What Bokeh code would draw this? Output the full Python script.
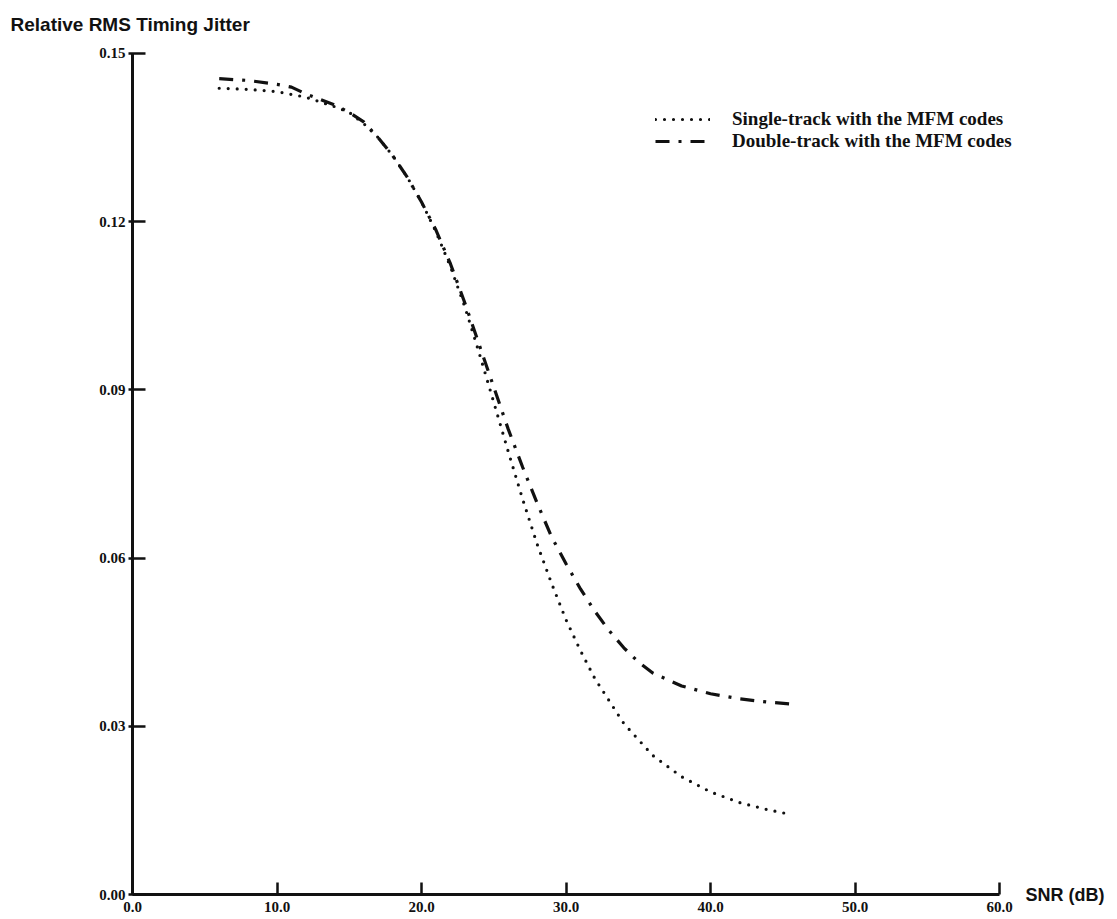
from bokeh.plotting import figure
from bokeh.models import (Range1d, FixedTicker, NumeralTickFormatter, Legend, LegendItem,
                          LinearAxis)
from bokeh.embed import file_html
from bokeh.resources import INLINE

# SNR (dB) sample points and relative RMS timing jitter for each recording scheme
snr_single = [6, 8, 10, 12, 14, 15, 16, 17, 18, 19, 20, 21, 22, 23, 24, 25, 26, 27, 28, 29,
              30, 31, 32, 34, 36, 38, 40, 42, 44, 45.5]
jitter_single = [0.1438, 0.1436, 0.1432, 0.1422, 0.1405, 0.1395, 0.1375, 0.135, 0.1318, 0.128,
                 0.1235, 0.1182, 0.112, 0.1048, 0.0965, 0.0878, 0.079, 0.0705, 0.0625, 0.0555,
                 0.049, 0.0435, 0.0385, 0.0305, 0.0248, 0.021, 0.0183, 0.0164, 0.0151, 0.0143]

snr_double = [6, 8, 10, 11, 12, 14, 15, 16, 17, 18, 19, 20, 21, 22, 23, 24, 25, 26, 27, 28,
              29, 30, 31, 32, 33, 34, 35, 36, 38, 40, 42, 44, 45.5]
jitter_double = [0.1455, 0.1452, 0.1445, 0.144, 0.1428, 0.1408, 0.1395, 0.1378, 0.135, 0.1318,
                 0.128, 0.1235, 0.1185, 0.1125, 0.1055, 0.098, 0.0905, 0.083, 0.0762, 0.0698,
                 0.0638, 0.059, 0.0545, 0.0505, 0.047, 0.044, 0.0415, 0.0395, 0.0372, 0.0358,
                 0.0349, 0.0343, 0.034]

x_ticks = [0, 10, 20, 30, 40, 50, 60]
y_ticks = [0.0, 0.03, 0.06, 0.09, 0.12, 0.15]

series_labels = ["Single-track with the MFM codes", "Double-track with the MFM codes"]
y_title = "Relative RMS Timing Jitter"
x_title = "SNR (dB)"

# The frame runs a little past 60 dB and above 0.15 so the legend fits inside it;
# the drawn axes stop at 60 / 0.15.
p = figure(width=1117, height=919, output_backend="svg", toolbar_location=None,
           x_range=Range1d(0, 61.45), y_range=Range1d(0, 0.15303),
           min_border_left=132, min_border_right=97, min_border_top=36, min_border_bottom=25,
           background_fill_color="white", border_fill_color="white", outline_line_color=None)
p.grid.visible = False

ink = "#111111"

p.title.text = y_title
p.title.align = "left"
p.title.offset = -122
p.title.standoff = 3
p.title.text_font = "Liberation Sans"
p.title.text_font_style = "bold"
p.title.text_font_size = "19px"
p.title.text_color = ink

for ax in (p.xaxis[0], p.yaxis[0]):
    ax.axis_line_width = 3
    ax.axis_line_color = ink
    ax.major_tick_line_width = 2.5
    ax.major_tick_line_color = ink
    ax.minor_tick_line_color = None
    ax.major_label_text_font = "Liberation Serif"
    ax.major_label_text_font_style = "bold"
    ax.major_label_text_font_size = "15px"
    ax.major_label_text_color = ink

p.xaxis.bounds = (0, 60)
p.xaxis.ticker = FixedTicker(ticks=x_ticks)
p.xaxis.formatter = NumeralTickFormatter(format="0.0")
p.xaxis.major_tick_in = 12
p.xaxis.major_tick_out = 0
p.xaxis.major_label_standoff = 7

p.yaxis.bounds = (0, 0.15)
p.yaxis.ticker = FixedTicker(ticks=y_ticks)
p.yaxis.formatter = NumeralTickFormatter(format="0.00")
p.yaxis.major_tick_in = 13
p.yaxis.major_tick_out = 4
p.yaxis.major_label_standoff = 3

# x-axis name sits level with the x-axis line, to the right of the frame
name_axis = LinearAxis(ticker=FixedTicker(ticks=[0.0]), major_label_overrides={0: x_title},
                       axis_line_color=None, major_tick_line_color=None,
                       minor_tick_line_color=None, major_tick_out=0, major_tick_in=0,
                       major_label_standoff=5, major_label_text_font="Liberation Sans",
                       major_label_text_font_style="bold", major_label_text_font_size="18px",
                       major_label_text_color=ink)
p.add_layout(name_axis, "right")

r_single = p.line(snr_single, jitter_single, line_color=ink, line_width=3.2,
                  line_dash="0 9", line_cap="round")
r_double = p.line(snr_double, jitter_double, line_color=ink, line_width=3.2,
                  line_dash="14 9 3 9", line_cap="butt")

legend_style = dict(orientation="vertical", glyph_width=55, glyph_height=18, label_height=18,
                    spacing=0, padding=0, margin=0, label_standoff=22,
                    label_text_font="Liberation Serif", label_text_font_style="bold",
                    label_text_font_size="19px", label_text_color=ink,
                    border_line_color=None, background_fill_alpha=0)
p.add_layout(Legend(items=[LegendItem(label=series_labels[0], renderers=[r_single])],
                    location=(523, 764), **legend_style))
p.add_layout(Legend(items=[LegendItem(label=series_labels[1], renderers=[r_double])],
                    location=(523, 742), **legend_style))

open("out.html", "w").write(file_html(p, INLINE))
